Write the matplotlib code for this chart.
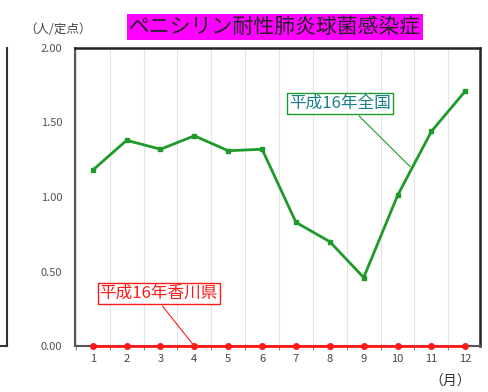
import matplotlib
matplotlib.use('Agg')
import matplotlib.pyplot as plt
from matplotlib.lines import Line2D

plt.rcParams['font.family'] = ['Noto Sans CJK JP', 'DejaVu Sans']

months = list(range(1, 13))
month_labels = [str(m) for m in months]
zenkoku = [1.18, 1.38, 1.32, 1.41, 1.31, 1.32, 0.83, 0.70, 0.46, 1.01, 1.44, 1.71]
kagawa = [0, 0, 0, 0, 0, 0, 0, 0, 0, 0, 0, 0]
yticks = [0.0, 0.5, 1.0, 1.5, 2.0]

fig = plt.figure(figsize=(4.89, 3.92), dpi=100)
ax = fig.add_axes([0.153, 0.117, 0.829, 0.761])

green = '#1e9a2a'
red = '#ff1a1a'

ax.plot(months, zenkoku, color=green, lw=2, marker='s', ms=3.5, zorder=3)
ax.plot(months, kagawa, color=red, lw=2, marker='o', ms=4, zorder=3, clip_on=False)

ax.set_xlim(0.47, 12.44)
ax.set_ylim(0, 2.0)
ax.set_xticks(months)
ax.set_xticklabels(month_labels)
ax.set_xticks([m + 0.5 for m in range(0, 12)], minor=True)
ax.tick_params(axis='x', which='major', length=0, pad=6, labelsize=8, labelcolor='#444')
ax.tick_params(axis='x', which='minor', length=3, color='#666', direction='out')
ax.set_yticks(yticks)
ax.set_yticklabels(['%.2f' % v for v in yticks])
ax.tick_params(axis='y', length=0, pad=9, labelsize=8, labelcolor='#555')
ax.grid(True, axis='x', which='minor', color='#e4e4e4', lw=0.8)
ax.set_axisbelow(True)

for s in ['left', 'bottom']:
    ax.spines[s].set_color('#555')
    ax.spines[s].set_linewidth(1.5)
for s in ['right', 'top']:
    ax.spines[s].set_color('#222')
    ax.spines[s].set_linewidth(1.8)

ax.annotate('平成16年全国', xy=(10.43, 1.19), xytext=(8.31, 1.63),
            ha='center', va='center', fontsize=12, color='#1a7f8a',
            bbox=dict(boxstyle='square,pad=0.12', fc='white', ec=green, lw=1),
            arrowprops=dict(arrowstyle='-', color=green, lw=0.8, relpos=(0.64, 0)))
ax.annotate('平成16年香川県', xy=(4, 0), xytext=(2.95, 0.356),
            ha='center', va='center', fontsize=12, color=red,
            bbox=dict(boxstyle='square,pad=0.12', fc='white', ec=red, lw=1),
            arrowprops=dict(arrowstyle='-', color=red, lw=0.8, relpos=(0.5, 0)))

fig.text(0.562, 0.931, 'ペニシリン耐性肺炎球菌感染症', ha='center', va='center',
         fontsize=15, color='#222',
         bbox=dict(boxstyle='square,pad=0.08', fc='#ff00ff', ec='none'))
fig.text(0.118, 0.926, '（人/定点）', ha='center', va='center', fontsize=9, color='#444')
fig.text(0.92, 0.026, '（月）', ha='center', va='center', fontsize=10, color='#333')

# edge of the neighbouring chart on the left
fig.add_artist(Line2D([0.015, 0.015], [0.117, 0.878], color='#333', lw=1.5))
fig.add_artist(Line2D([0.0, 0.015], [0.117, 0.117], color='#333', lw=1.5))

fig.savefig('out.png', dpi=100)
